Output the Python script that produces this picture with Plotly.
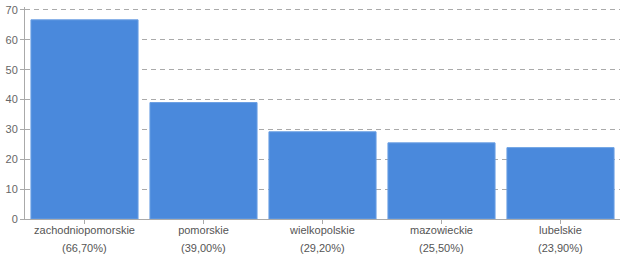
import plotly.graph_objects as go

categories = ["zachodniopomorskie", "pomorskie", "wielkopolskie", "mazowieckie", "lubelskie"]
values = [66.7, 39.0, 29.2, 25.5, 23.9]
pct_labels = ["(66,70%)", "(39,00%)", "(29,20%)", "(25,50%)", "(23,90%)"]
y_ticks = [0, 10, 20, 30, 40, 50, 60, 70]

fig = go.Figure()
fig.add_trace(go.Bar(
    x=categories, y=values,
    marker=dict(color="#4a89dc", line=dict(color="#6a9fe3", width=1)),
    hoverinfo="x+y",
))

for c, p in zip(categories, pct_labels):
    fig.add_annotation(x=c, xref="x", y=0, yref="paper", text=p, showarrow=False,
                       yanchor="top", yshift=-21,
                       font=dict(family="Liberation Sans, Arial, sans-serif", size=11, color="#555"))

fig.update_layout(
    width=627, height=257,
    margin=dict(l=25, r=7, t=4, b=38),
    plot_bgcolor="white", paper_bgcolor="white",
    bargap=0.1, showlegend=False,
    font=dict(family="Liberation Sans, Arial, sans-serif", size=11, color="#555"),
)
fig.update_xaxes(
    showline=True, linecolor="#aaa", linewidth=1,
    ticks="outside", ticklen=4, tickcolor="#aaa", ticklabelstandoff=-3,
    showgrid=False, tickfont=dict(size=11, color="#555"),
)
fig.update_yaxes(
    range=[0, 71], tickvals=y_ticks,
    showline=True, linecolor="#aaa", linewidth=1,
    ticks="outside", ticklen=4, tickcolor="#aaa",
    showgrid=True, gridcolor="#aaa", griddash="5px,4px", gridwidth=1,
    zeroline=False, tickfont=dict(size=11, color="#666"),
)

fig.write_html("out.html")
